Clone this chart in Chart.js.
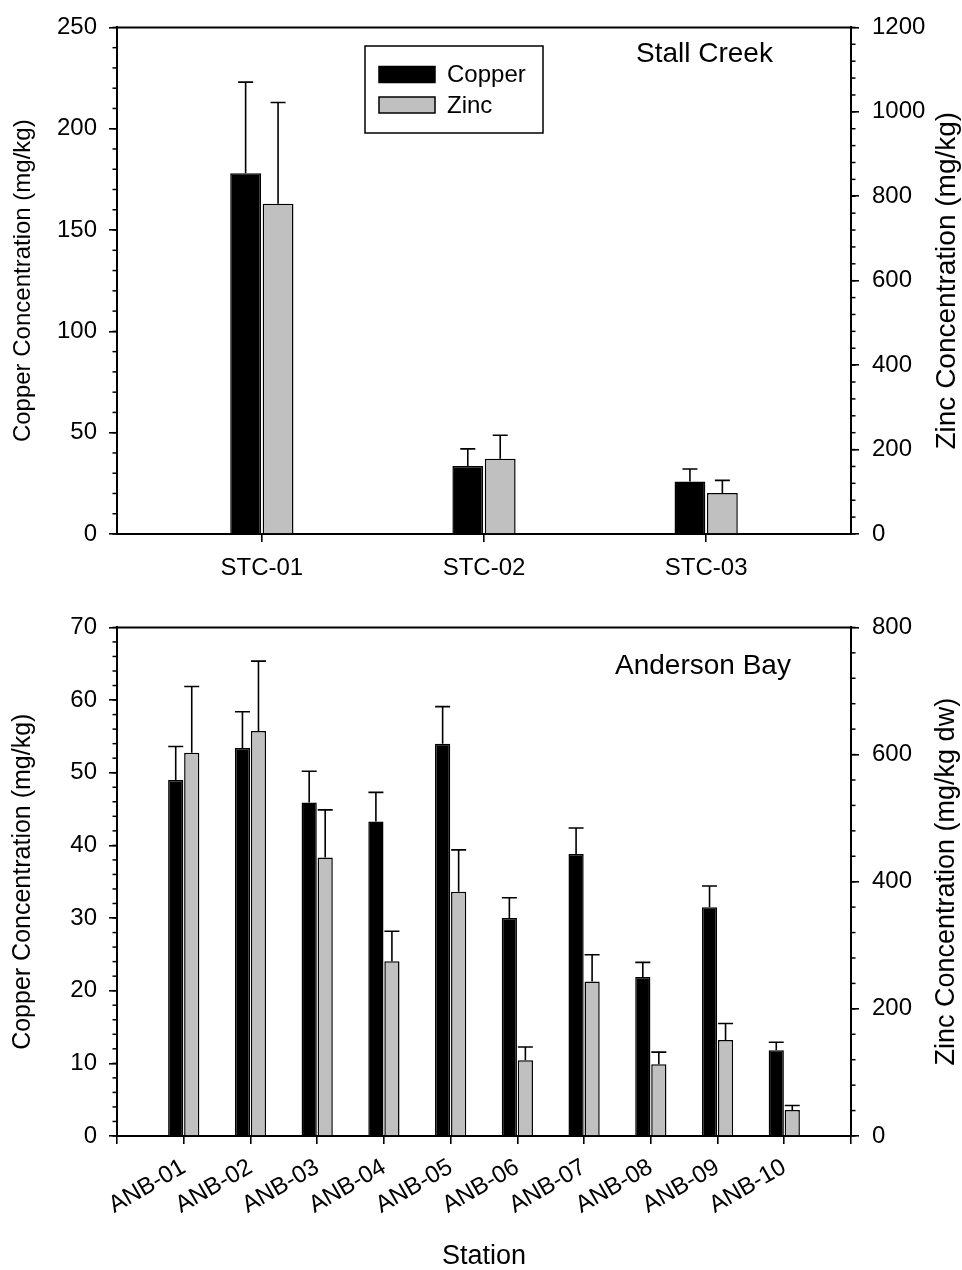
<!DOCTYPE html>
<html>
<head>
<meta charset="utf-8">
<script src="https://cdn.jsdelivr.net/npm/chart.js@4/dist/chart.umd.min.js"></script>
<style>
  html, body { margin: 0; padding: 0; background: #fff; }
  body { width: 962px; height: 1270px; position: relative; overflow: hidden; }
  .panel { position: absolute; left: 0; width: 962px; }
</style>
</head>
<body>
<div class="panel" style="top:0;height:600px"><canvas id="c1"></canvas></div>
<div class="panel" style="top:600px;height:670px"><canvas id="c2"></canvas></div>
<script>
// ---------------- data ----------------
const stcStations = ['STC-01', 'STC-02', 'STC-03'];
const stcCopper = [178, 33.5, 25.9];
const stcCopperErr = [45, 8.5, 6.2];
const stcZinc = [782, 178, 97];
const stcZincErr = [240, 56, 30];

const anbStations = ['ANB-01', 'ANB-02', 'ANB-03', 'ANB-04', 'ANB-05', 'ANB-06', 'ANB-07', 'ANB-08', 'ANB-09', 'ANB-10'];
const anbCopper = [49.0, 53.4, 45.9, 43.3, 54.0, 30.0, 38.8, 21.9, 31.5, 11.8];
const anbCopperErr = [4.6, 5.0, 4.3, 4.0, 5.1, 2.8, 3.6, 2.0, 2.9, 1.1];
const anbZinc = [603, 637, 438, 275, 384, 119, 243, 113, 151, 41];
const anbZincErr = [104, 110, 75, 47, 66, 21, 42, 19, 26, 7];

const stcCuTicks = [0, 50, 100, 150, 200, 250];
const stcZnTicks = [0, 200, 400, 600, 800, 1000, 1200];
const anbCuTicks = [0, 10, 20, 30, 40, 50, 60, 70];
const anbZnTicks = [0, 200, 400, 600, 800];

// ---------------- styling ----------------
const FONT = "'Liberation Sans', Arial, Helvetica, sans-serif";
Chart.defaults.font.family = FONT;
Chart.defaults.color = '#000';
Chart.defaults.animation = false;

const COPPER_COLOR = '#000000';
const ZINC_COLOR = '#c0c0c0';

// error bars (upper only)
const errorBars = {
  id: 'errorBars',
  afterDatasetsDraw(chart) {
    const ctx = chart.ctx;
    chart.data.datasets.forEach((ds, di) => {
      const meta = chart.getDatasetMeta(di);
      const ys = chart.scales[ds.yAxisID];
      meta.data.forEach((bar, i) => {
        const top = ys.getPixelForValue(ds.data[i].y + ds.errors[i]);
        ctx.save();
        ctx.strokeStyle = '#000';
        ctx.lineWidth = 1.6;
        ctx.beginPath();
        ctx.moveTo(bar.x, bar.y);
        ctx.lineTo(bar.x, top);
        ctx.moveTo(bar.x - 7.5, top);
        ctx.lineTo(bar.x + 7.5, top);
        ctx.stroke();
        ctx.restore();
      });
    });
  }
};

// frame top line, minor ticks, legend, panel label, right axis title
const deco = {
  id: 'deco',
  afterDraw(chart, args, o) {
    const ctx = chart.ctx;
    const ca = chart.chartArea;
    ctx.save();
    ctx.strokeStyle = '#000';
    ctx.lineWidth = 2;
    ctx.beginPath();
    ctx.moveTo(ca.left - 1, ca.top);
    ctx.lineTo(ca.right + 1, ca.top);
    ctx.stroke();
    ctx.lineWidth = 1.5;
    (o.minor || []).forEach(m => {
      const s = chart.scales[m.id];
      for (let v = s.min; v <= s.max + 1e-9; v += m.step) {
        const p = s.getPixelForValue(v);
        ctx.beginPath();
        if (s.position === 'left') { ctx.moveTo(ca.left - 4.5, p); ctx.lineTo(ca.left, p); }
        else { ctx.moveTo(ca.right, p); ctx.lineTo(ca.right + 4.5, p); }
        ctx.stroke();
      }
    });
    if (o.legend) {
      const L = o.legend;
      ctx.lineWidth = 1.5;
      ctx.strokeRect(L.x, L.y, L.w, L.h);
      chart.data.datasets.forEach((ds, i) => {
        const ry = L.rowY[i];
        ctx.fillStyle = ds.backgroundColor;
        ctx.fillRect(L.sx, ry - 8, 56, 16);
        ctx.strokeRect(L.sx, ry - 8, 56, 16);
        ctx.fillStyle = '#000';
        ctx.font = '24px ' + FONT;
        ctx.textBaseline = 'middle';
        ctx.textAlign = 'left';
        ctx.fillText(ds.label, L.tx, ry + 1);
      });
    }
    if (o.label) {
      ctx.fillStyle = '#000';
      ctx.font = '28px ' + FONT;
      ctx.textBaseline = 'alphabetic';
      ctx.textAlign = 'left';
      ctx.fillText(o.label.text, o.label.x, o.label.y);
    }
    if (o.rightTitle) {
      ctx.translate(o.rightTitle.x, (ca.top + ca.bottom) / 2 + (o.rightTitle.dy || 0));
      ctx.rotate(-Math.PI / 2);
      ctx.fillStyle = '#000';
      ctx.font = o.rightTitle.size + 'px ' + FONT;
      ctx.textAlign = 'center';
      ctx.textBaseline = 'middle';
      ctx.fillText(o.rightTitle.text, 0, 0);
    }
    ctx.restore();
  }
};

function axisGrid(len) {
  return { drawOnChartArea: false, drawTicks: true, tickLength: len, color: '#000', lineWidth: 1.6, offset: false };
}
const border = { display: true, color: '#000', width: 2 };
const plainNum = (v) => String(v);

function makeDatasets(cu, cuErr, zn, znErr) {
  return [
    { label: 'Copper', yAxisID: 'y', data: cu.map((v, i) => ({ x: i, y: v })), errors: cuErr,
      backgroundColor: COPPER_COLOR, borderColor: '#000', borderWidth: 1.5, borderSkipped: 'bottom' },
    { label: 'Zinc', yAxisID: 'y1', data: zn.map((v, i) => ({ x: i, y: v })), errors: znErr,
      backgroundColor: ZINC_COLOR, borderColor: '#000', borderWidth: 1.5, borderSkipped: 'bottom' }
  ];
}

// ---------------- top chart: Stall Creek ----------------
new Chart(document.getElementById('c1'), {
  type: 'bar',
  data: { datasets: makeDatasets(stcCopper, stcCopperErr, stcZinc, stcZincErr) },
  plugins: [errorBars, deco],
  options: {
    responsive: true, maintainAspectRatio: false, devicePixelRatio: 1,
    layout: { padding: { top: 18, left: 0, right: 0, bottom: 0 } },
    datasets: { bar: { categoryPercentage: 0.292, barPercentage: 0.95, grouped: true } },
    plugins: {
      legend: { display: false }, tooltip: { enabled: false },
      deco: {
        minor: [{ id: 'y', step: 10 }, { id: 'y1', step: 40 }],
        legend: { x: 365, y: 46, w: 178, h: 87, sx: 379, tx: 447, rowY: [74.5, 105] },
        label: { text: 'Stall Creek', x: 636, y: 62 },
        rightTitle: { text: 'Zinc Concentration (mg/kg)', x: 947, size: 28, dy: 0 }
      }
    },
    scales: {
      x: {
        type: 'linear', position: 'bottom', offset: false,
        min: -0.652, max: 2.652,
        afterBuildTicks(s) { s.ticks = stcStations.map((_, i) => ({ value: i })); },
        afterFit(s) { s.height = 66; },
        ticks: { callback: (v) => stcStations[v] ?? '', font: { size: 24 }, padding: 12, maxRotation: 0, minRotation: 0, autoSkip: false },
        grid: axisGrid(8), border
      },
      y: {
        type: 'linear', position: 'left', min: 0, max: 250,
        afterBuildTicks(s) { s.ticks = stcCuTicks.map(v => ({ value: v })); },
        afterFit(s) { s.width = 117; },
        ticks: { font: { size: 24 }, padding: 12, callback: plainNum },
        grid: axisGrid(8), border,
        title: { display: true, text: 'Copper Concentration (mg/kg)', font: { size: 24 }, padding: { top: 9, bottom: 0 } }
      },
      y1: {
        type: 'linear', position: 'right', min: 0, max: 1200,
        afterBuildTicks(s) { s.ticks = stcZnTicks.map(v => ({ value: v })); },
        afterFit(s) { s.width = 111; },
        ticks: { font: { size: 24 }, padding: 13, callback: plainNum },
        grid: axisGrid(8), border
      }
    }
  }
});

// ---------------- bottom chart: Anderson Bay ----------------
const anbTickPos = Array.from({ length: anbStations.length + 2 }, (_, i) => i - 1);
new Chart(document.getElementById('c2'), {
  type: 'bar',
  data: { datasets: makeDatasets(anbCopper, anbCopperErr, anbZinc, anbZincErr) },
  plugins: [errorBars, deco],
  options: {
    responsive: true, maintainAspectRatio: false, devicePixelRatio: 1,
    layout: { padding: { top: 21, left: 0, right: 0, bottom: 0 } },
    datasets: { bar: { categoryPercentage: 0.48, barPercentage: 0.95, grouped: true } },
    plugins: {
      legend: { display: false }, tooltip: { enabled: false },
      deco: {
        minor: [{ id: 'y', step: 2 }, { id: 'y1', step: 40 }],
        label: { text: 'Anderson Bay', x: 615, y: 74 },
        rightTitle: { text: 'Zinc Concentration (mg/kg dw)', x: 947, size: 27, dy: 0 }
      }
    },
    scales: {
      x: {
        type: 'linear', position: 'bottom', offset: false,
        min: -1, max: 10,
        afterBuildTicks(s) { s.ticks = anbTickPos.map(v => ({ value: v })); },
        afterFit(s) { s.height = 134; },
        ticks: { callback: (v) => anbStations[v] ?? '', font: { size: 24 }, padding: 9, maxRotation: 30, minRotation: 30, autoSkip: false },
        grid: axisGrid(8), border,
        title: { display: true, text: 'Station', font: { size: 27, lineHeight: 1 }, padding: { top: 0, bottom: 0 } }
      },
      y: {
        type: 'linear', position: 'left', min: 0, max: 70,
        afterBuildTicks(s) { s.ticks = anbCuTicks.map(v => ({ value: v })); },
        afterFit(s) { s.width = 117; },
        ticks: { font: { size: 24 }, padding: 12, callback: plainNum },
        grid: axisGrid(8), border,
        title: { display: true, text: 'Copper Concentration (mg/kg)', font: { size: 25 }, padding: { top: 8, bottom: 0 } }
      },
      y1: {
        type: 'linear', position: 'right', min: 0, max: 800,
        afterBuildTicks(s) { s.ticks = anbZnTicks.map(v => ({ value: v })); },
        afterFit(s) { s.width = 111; },
        ticks: { font: { size: 24 }, padding: 13, callback: plainNum },
        grid: axisGrid(8), border
      }
    }
  }
});
</script>
</body>
</html>
